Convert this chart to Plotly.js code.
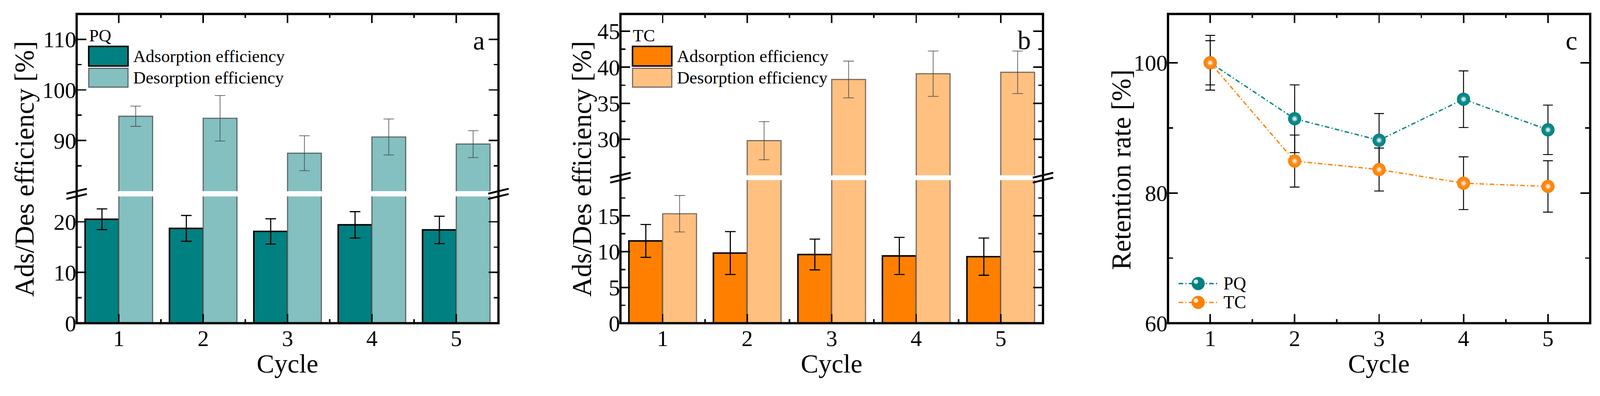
<!DOCTYPE html>
<html>
<head>
<meta charset="utf-8">
<script src="https://cdn.plot.ly/plotly-3.0.1.min.js"></script>
<style>
  html, body { margin: 0; padding: 0; background: #fff; overflow: hidden; }
</style>
</head>
<body>
<div id="graph"></div>
<script>
/* ----- data ----- */
var cycles = [1, 2, 3, 4, 5];
var cycleMinor = [1.5, 2.5, 3.5, 4.5];

// (a) PQ
var pqAds = [20.5, 18.7, 18.1, 19.4, 18.4];
var pqAdsErr = [2.05, 2.55, 2.5, 2.6, 2.7];
var pqDes = [94.8, 94.4, 87.5, 90.7, 89.3];
var pqDesErr = [2.0, 4.5, 3.45, 3.55, 2.65];

// (b) TC
var tcAds = [11.5, 9.8, 9.6, 9.4, 9.3];
var tcAdsErr = [2.3, 3.0, 2.15, 2.6, 2.6];
var tcDes = [15.3, 29.8, 38.3, 39.1, 39.3];
var tcDesErr = [2.55, 2.65, 2.55, 3.15, 2.95];

// (c) retention rate
var pqRet = [100, 91.4, 88.1, 94.4, 89.7];
var pqRetErr = [4.2, 5.2, 4.1, 4.35, 3.8];
var tcRet = [100, 84.9, 83.6, 81.5, 81.0];
var tcRetErr = [3.4, 4.0, 3.3, 4.05, 3.95];

var seriesNames = ['Adsorption efficiency', 'Desorption efficiency'];

/* ----- colours ----- */
var TEAL = '#008080', TEAL_L = '#84c0c0';
var ORANGE = '#ff8000', ORANGE_L = '#ffc080';
var FONT = 'Liberation Serif, Times New Roman, serif';

/* ----- pixel helpers (design is 4237 x 1015, scaled to the real viewport) ----- */
var W = 4237, H = 1015;
var k = Math.min((window.innerWidth || W) / W, (window.innerHeight || H) / H);
function s(v) { return v * k; }
function px(x) { return x / W; }
function py(y) { return 1 - y / H; }

var frameTop = 37, frameBot = 857;
var panels = {
    a: { l: 203, r: 1320, gapTop: 507, gapBot: 521 },
    b: { l: 1643, r: 2762, gapTop: 464.7, gapBot: 477.7 },
    c: { l: 3093, r: 4211 }
};
var dashDot = s(12) + 'px,' + s(6) + 'px,' + s(3) + 'px,' + s(6) + 'px';

/* ----- traces ----- */
function barTrace(y, err, xa, ya, color, edge, edgeW, errColor, errThick, offset) {
    return {
        type: 'bar', x: cycles, y: y, xaxis: xa, yaxis: ya,
        width: 0.4, offset: offset,
        marker: { color: color, line: { color: edge, width: s(edgeW) } },
        error_y: { type: 'data', array: err, visible: true, color: errColor, thickness: s(errThick), width: s(14) },
        showlegend: false, hoverinfo: 'skip'
    };
}

var data = [];
// panel a: lower (x, y) and upper (x2, y2) halves of the broken axis
[['x', 'y'], ['x2', 'y2']].forEach(function(ax) {
    data.push(barTrace(pqAds, pqAdsErr, ax[0], ax[1], TEAL, '#000', 4, '#000', 3, -0.4));
    data.push(barTrace(pqDes, pqDesErr, ax[0], ax[1], TEAL_L, '#5b6868', 3, '#444', 1.6, 0));
});
// panel b
[['x3', 'y3'], ['x4', 'y4']].forEach(function(ax) {
    data.push(barTrace(tcAds, tcAdsErr, ax[0], ax[1], ORANGE, '#000', 4, '#000', 3, -0.4));
    data.push(barTrace(tcDes, tcDesErr, ax[0], ax[1], ORANGE_L, '#7a6b5e', 3, '#444', 1.6, 0));
});

// panel c
function retTrace(y, err, color, inner) {
    return {
        type: 'scatter', mode: 'lines+markers', x: cycles, y: y, xaxis: 'x5', yaxis: 'y5',
        line: { color: color, width: s(3.5), dash: dashDot },
        marker: { size: s(35), color: color, gradient: { type: 'radial', color: inner }, line: { width: 0 } },
        error_y: { type: 'data', array: err, visible: true, color: '#000', thickness: s(2.5), width: s(13) },
        showlegend: false, hoverinfo: 'skip'
    };
}
function shineTrace(y, color) {
    return {
        type: 'scatter', mode: 'markers', x: cycles, y: y, xaxis: 'x5', yaxis: 'y5',
        marker: { size: s(14), color: color, gradient: { type: 'radial', color: '#ffffff' }, line: { width: 0 } },
        showlegend: false, hoverinfo: 'skip'
    };
}
data.push(retTrace(pqRet, pqRetErr, TEAL, '#1f9797'));
data.push(shineTrace(pqRet, '#5fb5b5'));
data.push(retTrace(tcRet, tcRetErr, ORANGE, '#ff962c'));
data.push(shineTrace(tcRet, '#ffb46a'));

/* ----- axes ----- */
var tickFont = { family: FONT, size: s(60), color: '#000' };

function xAxis(p, anchor, side, labels) {
    return {
        domain: [px(p.l), px(p.r)], anchor: anchor, side: side, range: [0.5, 5.5],
        tickmode: 'array', tickvals: cycles, ticks: 'inside', ticklen: s(24), tickwidth: s(4), tickcolor: '#000',
        minor: { tickmode: 'array', tickvals: cycleMinor, ticks: 'inside', ticklen: s(11), tickwidth: s(4), tickcolor: '#000' },
        showticklabels: labels, tickfont: tickFont, ticklabelstandoff: 0,
        showline: false, showgrid: false, zeroline: false, fixedrange: true
    };
}
function yAxis(dom, anchor, range, major, minor) {
    return {
        domain: dom, anchor: anchor, range: range,
        tickmode: 'array', tickvals: major, ticks: 'inside', ticklen: s(26), tickwidth: s(4), tickcolor: '#000',
        minor: { tickmode: 'array', tickvals: minor, ticks: 'inside', ticklen: s(13), tickwidth: s(4), tickcolor: '#000' },
        mirror: 'ticks', tickfont: tickFont, ticklabelstandoff: s(3),
        showline: false, showgrid: false, zeroline: false, fixedrange: true
    };
}

var yBot = py(frameBot), yTop = py(frameTop);

var layout = {
    width: s(W), height: s(H),
    margin: { l: 0, r: 0, t: 0, b: 0 },
    paper_bgcolor: '#fff', plot_bgcolor: 'rgba(0,0,0,0)',
    showlegend: false, barmode: 'overlay',
    font: { family: FONT, color: '#000' },

    xaxis: xAxis(panels.a, 'y', 'bottom', true),
    xaxis2: xAxis(panels.a, 'y2', 'top', false),
    yaxis: yAxis([yBot, py(panels.a.gapBot)], 'x', [0, 25], [0, 10, 20], [5, 15]),
    yaxis2: yAxis([py(panels.a.gapTop), yTop], 'x2', [80, 115], [90, 100, 110], [85, 95, 105]),

    xaxis3: xAxis(panels.b, 'y3', 'bottom', true),
    xaxis4: xAxis(panels.b, 'y4', 'top', false),
    yaxis3: yAxis([yBot, py(panels.b.gapBot)], 'x3', [0, 20], [0, 5, 10, 15], [2.5, 7.5, 12.5, 17.5]),
    yaxis4: yAxis([py(panels.b.gapTop), yTop], 'x4', [25, 47.4], [30, 35, 40, 45], [27.5, 32.5, 37.5, 42.5]),

    xaxis5: Object.assign(xAxis(panels.c, 'y5', 'bottom', true), { mirror: 'ticks' }),
    yaxis5: yAxis([yBot, yTop], 'x5', [60, 107.5], [60, 80, 100], [70, 90]),

    shapes: [],
    annotations: []
};

/* ----- frames, axis breaks ----- */
['a', 'b', 'c'].forEach(function(key) {
    var p = panels[key];
    layout.shapes.push({
        type: 'rect', xref: 'paper', yref: 'paper',
        x0: px(p.l), x1: px(p.r), y0: yBot, y1: yTop,
        line: { color: '#000', width: s(6) }, fillcolor: 'rgba(0,0,0,0)'
    });
    if (p.gapTop) {
        [p.l, p.r].forEach(function(xe) {
            [p.gapTop, p.gapBot].forEach(function(ye) {
                layout.shapes.push({
                    type: 'line', xref: 'paper', yref: 'paper',
                    x0: px(xe - 27), y0: py(ye + 6.5), x1: px(xe + 27), y1: py(ye - 6.5),
                    line: { color: '#000', width: s(5) }
                });
            });
        });
    }
});

function text(x, y, str, size, xanchor, angle) {
    layout.annotations.push({
        xref: 'paper', yref: 'paper', x: px(x), y: py(y), text: str, showarrow: false,
        xanchor: xanchor || 'center', yanchor: 'middle', textangle: angle || 0,
        font: { family: FONT, size: s(size), color: '#000' }
    });
}

/* ----- bar legends (a, b) ----- */
function barLegend(p, title, c1, c2, edge2) {
    var x0 = p.l + 32;
    text(x0 - 1, 94, title, 46, 'left');
    layout.shapes.push({ type: 'rect', xref: 'paper', yref: 'paper',
        x0: px(x0), x1: px(x0 + 104), y0: py(175), y1: py(123),
        fillcolor: c1, line: { color: '#000', width: s(4) } });
    layout.shapes.push({ type: 'rect', xref: 'paper', yref: 'paper',
        x0: px(x0), x1: px(x0 + 104), y0: py(231), y1: py(181),
        fillcolor: c2, line: { color: edge2, width: s(3) } });
    text(x0 + 116, 149, seriesNames[0], 46, 'left');
    text(x0 + 116, 206, seriesNames[1], 46, 'left');
}
barLegend(panels.a, 'PQ', TEAL, TEAL_L, '#5b6868');
barLegend(panels.b, 'TC', ORANGE, ORANGE_L, '#7a6b5e');

/* ----- line legend (c) ----- */
[['PQ', TEAL, 752], ['TC', ORANGE, 802]].forEach(function(it) {
    var yy = it[2];
    layout.shapes.push({ type: 'line', xref: 'paper', yref: 'paper',
        x0: px(3121), x1: px(3227), y0: py(yy), y1: py(yy),
        line: { color: it[1], width: s(3.5), dash: dashDot } });
    layout.shapes.push({ type: 'circle', xref: 'paper', yref: 'paper',
        x0: px(3173 - 17.5), x1: px(3173 + 17.5), y0: py(yy + 17.5), y1: py(yy - 17.5),
        fillcolor: it[1], line: { width: 0 } });
    layout.shapes.push({ type: 'circle', xref: 'paper', yref: 'paper',
        x0: px(3167 - 6), x1: px(3167 + 6), y0: py(yy + 1), y1: py(yy - 11),
        fillcolor: '#ffffff', opacity: 0.8, line: { width: 0 } });
    text(3238, yy, it[0], 47, 'left');
});

/* ----- titles and panel letters ----- */
text(65, 448, 'Ads/Des efficiency [%]', 72, 'center', -90);
text(1541, 448, 'Ads/Des efficiency [%]', 72, 'center', -90);
text(2970, 450, 'Retention rate [%]', 72, 'center', -90);
text((panels.a.l + panels.a.r) / 2, 965, 'Cycle', 70);
text((panels.b.l + panels.b.r) / 2, 965, 'Cycle', 70);
text((panels.c.l + panels.c.r) / 2, 965, 'Cycle', 70);
text(1268, 108, 'a', 70);
text(2712, 107, 'b', 70);
text(4161, 108, 'c', 70);

var graph = document.getElementById('graph');
graph.style.width = s(W) + 'px';
graph.style.height = s(H) + 'px';
Plotly.newPlot(graph, data, layout, { displayModeBar: false, staticPlot: true });
</script>
</body>
</html>
